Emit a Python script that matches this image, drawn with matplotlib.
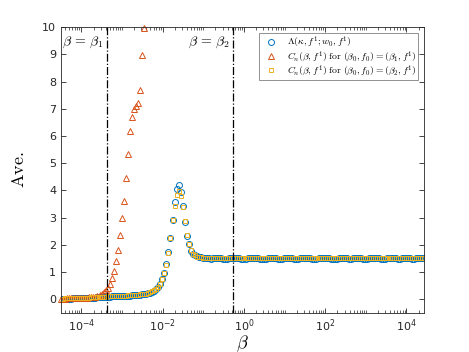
import numpy as np
import matplotlib
matplotlib.use("Agg")
import matplotlib.pyplot as plt
from matplotlib.ticker import LogLocator, NullFormatter, FixedLocator

plt.rcParams['mathtext.fontset'] = 'cm'
plt.rcParams['font.family'] = ['DejaVu Sans']

# x grid (log-spaced beta values)
beta_log_start = -4.5
beta_log_stop = 4.43
n_points = 180
beta = np.logspace(beta_log_start, beta_log_stop, n_points)

beta_1 = 4.4e-4
beta_2 = 0.55

flat_blue = [1.52, 1.51, 1.50, 1.50, 1.49, 1.50, 1.51, 1.52, 1.51, 1.50,
             1.49, 1.48, 1.49, 1.50, 1.51, 1.52, 1.52, 1.51, 1.50, 1.49,
             1.48, 1.49, 1.50, 1.51, 1.52, 1.53, 1.52, 1.51, 1.49, 1.48,
             1.48, 1.49, 1.51, 1.52, 1.53, 1.52, 1.50, 1.49, 1.48, 1.49,
             1.50, 1.52, 1.53, 1.52, 1.51, 1.49, 1.48, 1.49, 1.50, 1.51,
             1.52, 1.52, 1.51, 1.50, 1.49, 1.48, 1.49, 1.50, 1.52, 1.53,
             1.52, 1.51, 1.50, 1.49, 1.48, 1.48, 1.49, 1.51, 1.52, 1.52,
             1.51, 1.50, 1.49, 1.49, 1.50, 1.51, 1.52, 1.51, 1.50, 1.49,
             1.48, 1.49, 1.50, 1.51, 1.52, 1.52, 1.51, 1.50, 1.49, 1.48,
             1.49, 1.50, 1.51, 1.52, 1.51, 1.50, 1.49, 1.49, 1.50, 1.51,
             1.52, 1.51, 1.50, 1.49, 1.49, 1.50, 1.51, 1.51, 1.50, 1.50]

lambda_vals = ([0.02, 0.02, 0.025, 0.025, 0.03, 0.03, 0.035, 0.035, 0.04, 0.04,
                0.045, 0.045, 0.05, 0.05, 0.055, 0.06, 0.06, 0.065, 0.07, 0.075,
                0.08, 0.085, 0.09, 0.10, 0.10, 0.105, 0.11, 0.11, 0.115, 0.12,
                0.12, 0.125, 0.13, 0.135, 0.14, 0.145, 0.15, 0.16, 0.165, 0.17,
                0.18, 0.19, 0.20, 0.22, 0.25, 0.28, 0.32, 0.38, 0.45,
                0.55, 0.73, 0.98, 1.28, 1.72, 2.27, 2.93, 3.59, 4.07, 4.20,
                3.95, 3.42, 2.83, 2.32, 2.02, 1.79, 1.67, 1.62, 1.58, 1.56, 1.55]
               + flat_blue)

cn_beta1 = [0.03, 0.03, 0.03, 0.035, 0.035, 0.035, 0.04, 0.04, 0.045, 0.05,
            0.05, 0.055, 0.06, 0.065, 0.07, 0.08, 0.09, 0.10, 0.12, 0.15,
            0.19, 0.26, 0.34,
            0.43, 0.58, 0.77, 1.04, 1.40, 1.83, 2.38, 2.97, 3.63, 4.44,
            5.35, 6.19, 6.71, 6.98, 7.10, 7.23, 7.69, 8.98, 9.96]

flat_yellow = [1.51, 1.51, 1.50, 1.50, 1.50, 1.50, 1.51, 1.51, 1.51, 1.50,
               1.50, 1.50, 1.50, 1.50, 1.51, 1.51, 1.51, 1.51, 1.50, 1.50,
               1.50, 1.50, 1.50, 1.51, 1.51, 1.51, 1.51, 1.50, 1.50, 1.50,
               1.50, 1.50, 1.51, 1.51, 1.51, 1.51, 1.50, 1.50, 1.50, 1.50,
               1.50, 1.51, 1.51, 1.51, 1.51, 1.50, 1.50, 1.50, 1.50, 1.51,
               1.51, 1.51, 1.51, 1.50, 1.50, 1.50, 1.50, 1.50, 1.51, 1.51,
               1.51, 1.51, 1.50, 1.50, 1.50, 1.50, 1.50, 1.51, 1.51, 1.51,
               1.51, 1.50, 1.50, 1.50, 1.50, 1.51, 1.51, 1.51, 1.50, 1.50,
               1.50, 1.50, 1.50, 1.51, 1.51, 1.51, 1.51, 1.50, 1.50, 1.50,
               1.50, 1.50, 1.51, 1.51, 1.51, 1.50, 1.50, 1.50, 1.50, 1.51,
               1.51, 1.51, 1.50, 1.50, 1.50, 1.50, 1.51, 1.51, 1.50, 1.50]

cn_beta2 = ([0.03, 0.03, 0.035, 0.035, 0.04, 0.04, 0.045, 0.045, 0.05, 0.05,
             0.055, 0.055, 0.06, 0.06, 0.065, 0.07, 0.07, 0.075, 0.08, 0.085,
             0.09, 0.095, 0.10, 0.105, 0.11, 0.11, 0.115, 0.12, 0.125, 0.13,
             0.13, 0.135, 0.14, 0.145, 0.15, 0.155, 0.16, 0.165, 0.17, 0.18,
             0.19, 0.20, 0.21, 0.23, 0.26, 0.29, 0.33, 0.39, 0.46,
             0.56, 0.73, 0.97, 1.27, 1.70, 2.25, 2.90, 3.44, 3.85, 3.97,
             3.81, 3.40, 2.86, 2.38, 2.02, 1.80, 1.67, 1.61, 1.57, 1.55, 1.54]
            + flat_yellow)

c_blue = (0.0, 0.447, 0.741)
c_orange = (0.85, 0.325, 0.098)
c_yellow = (0.929, 0.694, 0.125)
axis_gray = (0.15, 0.15, 0.15)

fig = plt.figure(figsize=(4.69, 3.52), dpi=100)
ax = fig.add_axes([0.130, 0.111, 0.774, 0.812])

ax.plot(beta[:len(lambda_vals)], lambda_vals, linestyle='none', marker='o',
        markersize=4.3, markerfacecolor='none', markeredgecolor=c_blue,
        markeredgewidth=0.7, label=r'$\Lambda(\kappa, f^1; w_0, f^1)$')
ax.plot(beta[:len(cn_beta1)], cn_beta1, linestyle='none', marker='^',
        markersize=4.5, markerfacecolor='none', markeredgecolor=c_orange,
        markeredgewidth=0.7, clip_on=False,
        label=r'$C_n(\beta, f^1)\ \mathrm{for}\ (\beta_0, f_0) = (\beta_1, f^1)$')
ax.plot(beta[:len(cn_beta2)], cn_beta2, linestyle='none', marker='s',
        markersize=3.1, markerfacecolor='none', markeredgecolor=c_yellow,
        markeredgewidth=0.7,
        label=r'$C_n(\beta, f^1)\ \mathrm{for}\ (\beta_0, f_0) = (\beta_2, f^1)$')

ax.axvline(beta_1, color='black', linestyle='-.', linewidth=0.9)
ax.axvline(beta_2, color='black', linestyle='-.', linewidth=0.9)

ax.set_xscale('log')
ax.set_xlim(beta[0], beta[-1])
ax.set_ylim(-0.5, 10)
ax.set_yticks(range(0, 11))
ax.xaxis.set_major_locator(FixedLocator([1e-4, 1e-2, 1e0, 1e2, 1e4]))
ax.xaxis.set_minor_locator(LogLocator(base=10, subs=np.arange(1, 10), numticks=50))
ax.xaxis.set_minor_formatter(NullFormatter())

ax.tick_params(axis='both', which='both', direction='in', top=True, right=True,
               colors=axis_gray, labelsize=8)
ax.tick_params(axis='both', which='major', length=3.5, width=0.6)
ax.tick_params(axis='both', which='minor', length=2, width=0.5)
for sp in ax.spines.values():
    sp.set_color(axis_gray)
    sp.set_linewidth(0.6)

ax.set_xlabel(r'$\beta$', fontsize=13, labelpad=-1)
ax.set_ylabel(r'$\mathrm{Ave.}$', fontsize=13, labelpad=10)

ax.text(beta_1 * 0.8, 9.45, r'$\beta\,=\,\beta_1$', ha='right', va='center', fontsize=10)
ax.text(beta_2 * 0.8, 9.45, r'$\beta\,=\,\beta_2$', ha='right', va='center', fontsize=10)

leg = ax.legend(loc='upper right', fontsize=7, frameon=True, fancybox=False,
                framealpha=1, edgecolor=(0.5, 0.5, 0.5), borderpad=0.2,
                labelspacing=-0.1, handletextpad=0.6, handlelength=2.0,
                borderaxespad=0.6)
leg.get_frame().set_linewidth(0.6)

fig.savefig('out.png', dpi=100)
